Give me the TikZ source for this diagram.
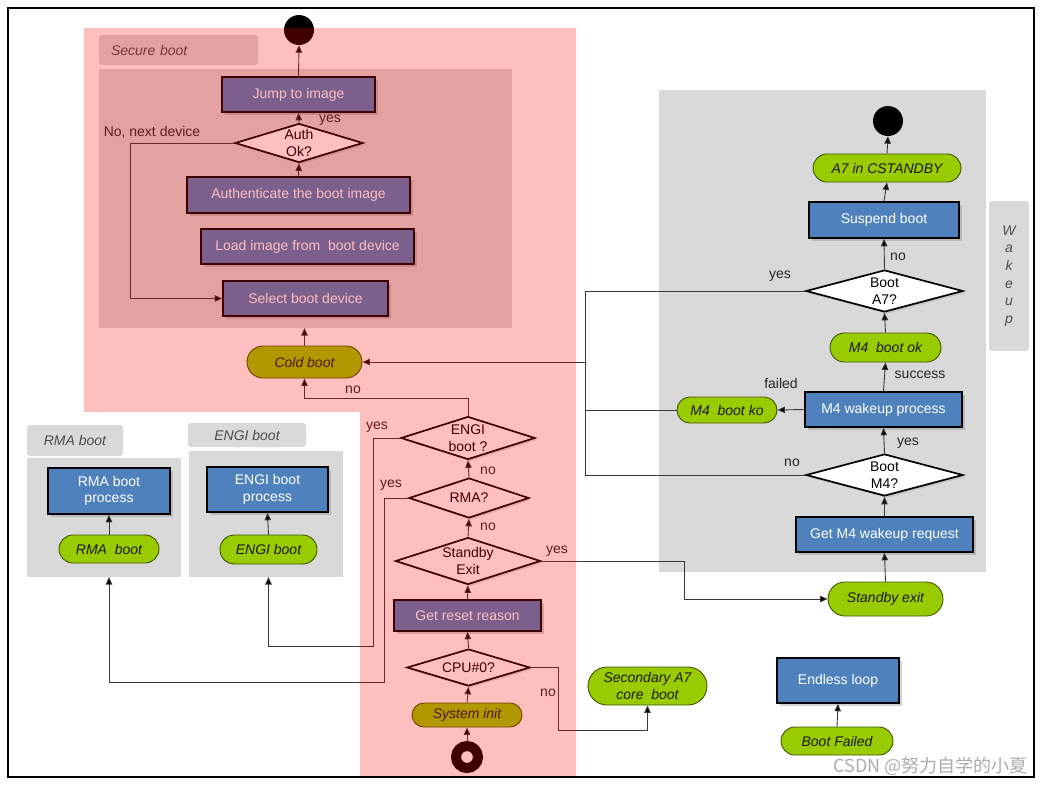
\documentclass[tikz,border=0pt]{standalone}
\usepackage{fontspec}
\setmainfont{Liberation Sans}
\newfontfamily\cjkfont{Noto Sans CJK SC}
\usetikzlibrary{arrows.meta, shapes.geometric, shapes.misc, shadows}

\definecolor{blueBox}{HTML}{4F81BD}
\definecolor{greenPill}{HTML}{99CC00}
\definecolor{pillLine}{HTML}{3F5500}
\definecolor{grayBox}{HTML}{D9D9D9}
\definecolor{lineGray}{HTML}{383838}
\definecolor{overlayRed}{HTML}{FF0000}

\tikzset{
  proc/.style={rectangle, draw=black, line width=1.6pt, fill=blueBox, text=white,
    inner sep=2pt, align=center,
    drop shadow={shadow xshift=2.5pt, shadow yshift=-2.5pt, opacity=0.35}},
  decide/.style={diamond, shape aspect=3, inner sep=0pt, draw=black, line width=1.7pt,
    fill=white, align=center,
    drop shadow={shadow xshift=2pt, shadow yshift=-2pt, opacity=0.25}},
  pill/.style={rounded rectangle, draw=pillLine, line width=0.9pt, fill=greenPill,
    font=\fontsize{14}{16.5}\selectfont\itshape, text=black!90, inner sep=1pt, align=center},
  grp/.style={rectangle, fill=grayBox, inner sep=0pt, outer sep=0pt},
  grplbl/.style={rectangle, rounded corners=3pt, fill=grayBox, inner sep=0pt,
    font=\fontsize{14}{17.6}\selectfont\itshape, text=black!70, align=center},
  arr/.style={draw=lineGray, line width=0.9pt, -{Triangle[length=7.5pt, width=6.5pt, fill=black]}},
  wire/.style={draw=lineGray, line width=0.9pt},
  lbl/.style={inner sep=0pt, text=black!85},
  term/.style={circle, fill=black, minimum size=30pt, inner sep=0pt}
}

\begin{document}
\begin{tikzpicture}[x=1pt, y=-1pt, every node/.style={font=\fontsize{14}{16.5}\selectfont}]
  \useasboundingbox (0,0) rectangle (1045,785);

  % groups
  \node[grp, minimum width=413, minimum height=259] (sbin) at (305.5,198.5) {};
  \node[grplbl, minimum width=159, minimum height=30, inner xsep=12pt, text width=135pt, align=left] (sblbl) at (178.5,50) {Secure boot};
  \node[grp, minimum width=154, minimum height=119] (rmagrp) at (104,517.5) {};
  \node[grplbl, minimum width=96, minimum height=31] (rmalbl) at (75,440.5) {RMA boot};
  \node[grp, minimum width=154, minimum height=126] (engigrp) at (266,514) {};
  \node[grplbl, minimum width=118, minimum height=24] (engilbl) at (247,435) {ENGI boot};
  \node[grp, minimum width=327, minimum height=482] (wakegrp) at (822.5,331) {};
  \node[grplbl, minimum width=40, minimum height=150] (wakelbl) at (1009,276) {W\\a\\k\\e\\u\\p};

  % secure boot
  \node[term] (sbend) at (299,30) {};
  \node[proc, minimum width=153, minimum height=35] (jump) at (298.5,94.5) {Jump to image};
  \node[decide, minimum width=128, minimum height=39] (auth) at (299,143) {Auth\\Ok?};
  \node[proc, minimum width=223, minimum height=36] (authimg) at (298.5,195) {Authenticate the boot image};
  \node[proc, minimum width=213, minimum height=35] (load) at (307.5,246.5) {Load image from \ boot device};
  \node[proc, minimum width=165, minimum height=35] (select) at (305.5,298.5) {Select boot device};
  \node[pill, minimum width=117, minimum height=32] (cold) at (304.5,362) {Cold boot};

  % main column
  \node[decide, minimum width=134, minimum height=43] (engi) at (468,438) {ENGI\\boot ?};
  \node[decide, minimum width=120, minimum height=40] (rma) at (469,498) {RMA?};
  \node[decide, minimum width=145, minimum height=47] (stby) at (468,561) {Standby\\Exit};
  \node[proc, minimum width=147, minimum height=31] (reset) at (467.5,615.5) {Get reset reason};
  \node[decide, minimum width=123, minimum height=37] (cpu) at (468.5,667.5) {CPU\#0?};
  \node[pill, minimum width=112, minimum height=24] (sysinit) at (467,715) {System init};
  \node[circle, draw=black, line width=10pt, fill=white, minimum size=22pt, inner sep=0pt] (start) at (467,757) {};
  \node[pill, minimum width=121, minimum height=38] (sec) at (647.5,686) {Secondary A7\\core \ boot};

  % RMA / ENGI
  \node[proc, minimum width=122, minimum height=46] (rmaproc) at (109,491) {RMA boot\\process};
  \node[pill, minimum width=102, minimum height=28] (rmapill) at (109,549) {RMA \ boot};
  \node[proc, minimum width=121, minimum height=45] (engiproc) at (267.5,489.5) {ENGI boot\\process};
  \node[pill, minimum width=99, minimum height=29] (engipill) at (268.5,549.5) {ENGI boot};

  % wakeup
  \node[term] (wkend) at (888,121) {};
  \node[pill, minimum width=150, minimum height=28] (cstby) at (887,168) {A7 in CSTANDBY};
  \node[proc, minimum width=150, minimum height=36] (suspend) at (884,220) {Suspend boot};
  \node[decide, minimum width=157, minimum height=42] (a7) at (884.5,291) {Boot\\A7?};
  \node[pill, minimum width=113, minimum height=29] (m4ok) at (885.5,347.5) {M4 \ boot ok};
  \node[proc, minimum width=157, minimum height=35] (m4proc) at (883.5,409.5) {M4 wakeup process};
  \node[pill, minimum width=102, minimum height=26] (m4ko) at (727,410) {M4 \ boot ko};
  \node[decide, minimum width=157, minimum height=42] (m4) at (884.5,475) {Boot\\M4?};
  \node[proc, minimum width=177, minimum height=35] (getm4) at (884.5,534.5) {Get M4 wakeup request};
  \node[pill, minimum width=117, minimum height=34] (stbyexit) at (885.5,599) {Standby exit};

  % boot failed
  \node[proc, minimum width=122, minimum height=45] (endless) at (838,680.5) {Endless loop};
  \node[pill, minimum width=114, minimum height=28] (failed) at (837,741) {Boot Failed};

  % bends
  \coordinate (loopturn) at (130,298.5);
  \coordinate (coldturn) at (304.5,398);
  \coordinate (engiturn) at (373,646);
  \coordinate (rmaturn) at (384,682);
  \coordinate (cputurn) at (558,730);
  \coordinate (stbyturn) at (684,599);
  \coordinate (jcold) at (585,362);

  % connectors
  \draw[arr] (jump.north) -- (sbend.south);
  \draw[arr] (auth.north) -- (jump.south);
  \draw[arr] (authimg.north) -- (auth.south);
  \draw[arr] (auth.west) -| (loopturn) -- (select.west);
  \draw[arr] (cold.north) -- (cold.north |- sbin.south);
  \draw[arr] (engi.north) |- (coldturn) -- (cold.south);
  \draw[arr] (rma.north) -- (engi.south);
  \draw[arr] (stby.north) -- (rma.south);
  \draw[arr] (reset.north) -- (stby.south);
  \draw[arr] (cpu.north) -- (reset.south);
  \draw[arr] (sysinit.north) -- (cpu.south);
  \draw[arr] (start.north) -- (sysinit.south);
  \draw[arr] (cpu.east) -| (cputurn) -| (sec.south);
  \draw[arr] (engi.west) -| (engiturn) -| (engipill |- engigrp.south);
  \draw[arr] (rma.west) -| (rmaturn) -| (rmapill |- rmagrp.south);
  \draw[arr] (rmapill.north) -- (rmaproc.south);
  \draw[arr] (engipill.north) -- (engiproc.south);
  \draw[arr] (stby.east) -| (stbyturn) -- (stbyexit.west);
  \draw[arr] (stbyexit.north) -- (getm4.south);
  \draw[arr] (getm4.north) -- (m4.south);
  \draw[arr] (m4.north) -- (m4proc.south);
  \draw[arr] (m4proc.north) -- (m4ok.south);
  \draw[arr] (m4ok.north) -- (a7.south);
  \draw[arr] (a7.north) -- (suspend.south);
  \draw[arr] (suspend.north) -- (cstby.south);
  \draw[arr] (cstby.north) -- (wkend.south);
  \draw[arr] (m4proc.west) -- (m4ko.east);
  \draw[arr] (a7.west) -| (jcold) -- (cold.east);
  \draw[wire] (m4ko.west) -| (jcold);
  \draw[wire] (m4.west) -| (jcold);
  \draw[arr] (failed.north) -- (endless.south);

  % labels
  \node[lbl] (lauthyes) at (330,120) {yes};
  \node[lbl] (lauthno) at (152,132) {No, next device};
  \node[lbl] (lengino) at (353,390) {no};
  \node[lbl] (lengiyes) at (377,427) {yes};
  \node[lbl] (lrmano) at (488,471) {no};
  \node[lbl] (lrmayes) at (391,485) {yes};
  \node[lbl] (lstbyno) at (488,527) {no};
  \node[lbl] (lstbyyes) at (557,551) {yes};
  \node[lbl] (lcpuno) at (548,693) {no};
  \node[lbl] (la7no) at (898,257) {no};
  \node[lbl] (la7yes) at (780,276) {yes};
  \node[lbl] (lsuccess) at (920,375) {success};
  \node[lbl] (lfailed) at (781,383) {failed};
  \node[lbl] (lm4yes) at (908,443) {yes};
  \node[lbl] (lm4no) at (792,463) {no};

  % red overlay of the ROM code zone
  \fill[overlayRed, fill opacity=0.25] (84,28) -- (576,28) -- (576,777) -- (360,777) -- (360,412) -- (84,412) -- cycle;

  \node[anchor=east, inner sep=0pt, text=gray!65, font=\cjkfont\fontsize{18}{20}\selectfont] (wmark) at (1028,766) {CSDN @努力自学的小夏};

  \draw[line width=2.5pt] (8,8) rectangle (1034,777);
\end{tikzpicture}
\end{document}
